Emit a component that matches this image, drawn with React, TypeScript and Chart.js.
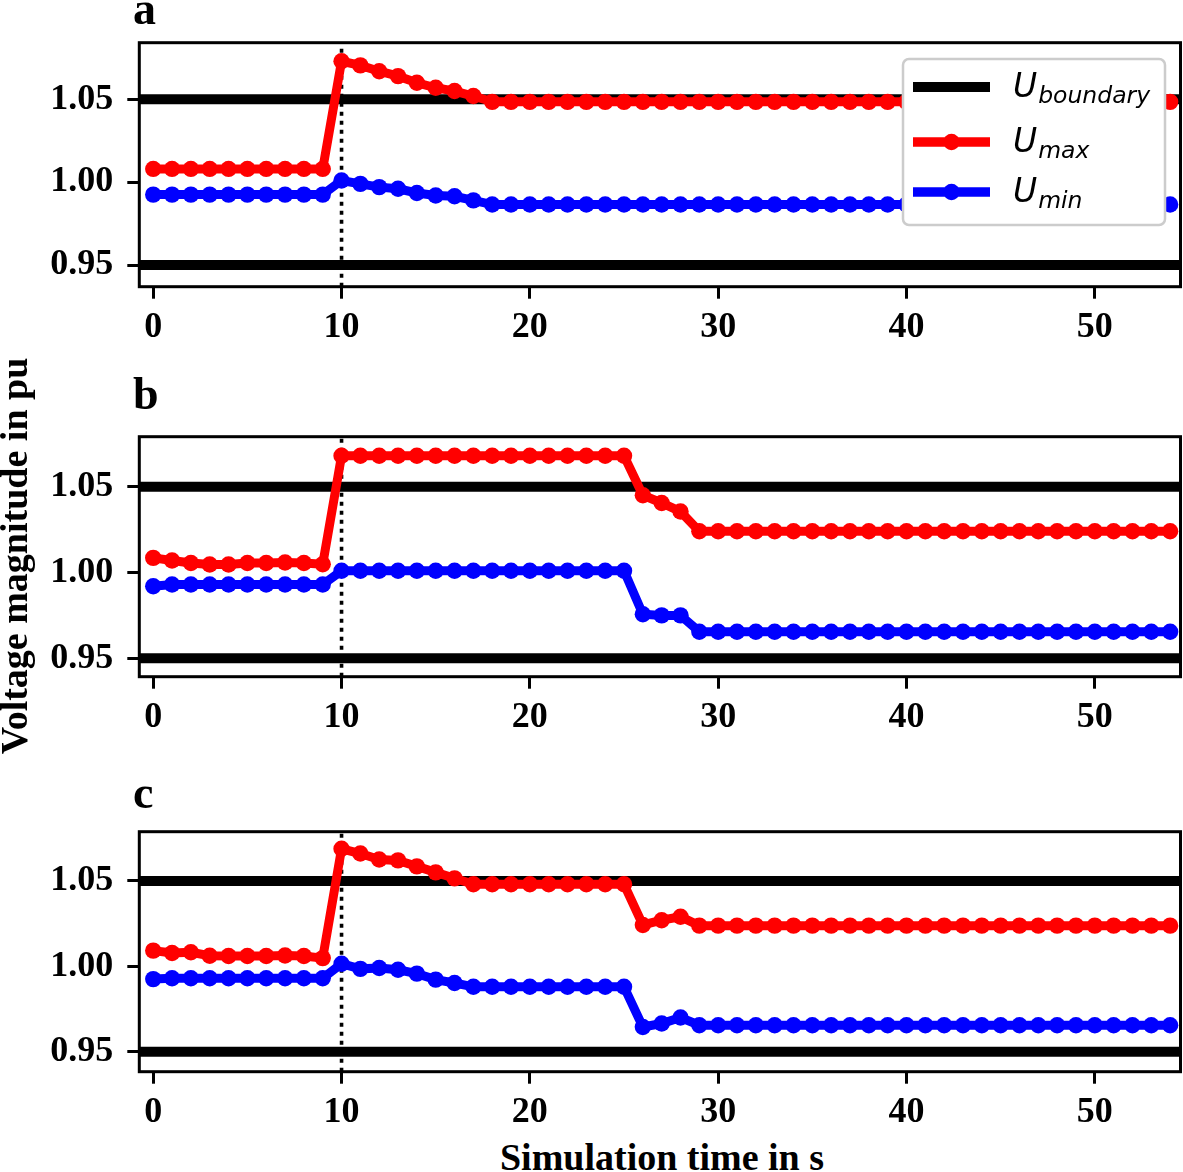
import React, { useEffect, useRef } from "react";
import { Chart, registerables } from "chart.js";

Chart.register(...registerables);

// ---------------- data ----------------
const TIME = [
  0, 1, 2, 3, 4, 5, 6, 7, 8, 9, 10, 11, 12, 13, 14, 15, 16, 17, 18, 19, 20, 21, 22, 23, 24, 25, 26, 27,
  28, 29, 30, 31, 32, 33, 34, 35, 36, 37, 38, 39, 40, 41, 42, 43, 44, 45, 46, 47, 48, 49, 50, 51, 52, 53, 54,
];

const A_UMAX = [
  1.008, 1.008, 1.008, 1.008, 1.008, 1.008, 1.008, 1.008, 1.008, 1.008,
  1.073, 1.0705, 1.067, 1.064, 1.06, 1.057, 1.055, 1.052,
  1.0485, 1.0485, 1.0485, 1.0485, 1.0485, 1.0485, 1.0485, 1.0485, 1.0485, 1.0485, 1.0485, 1.0485, 1.0485,
  1.0485, 1.0485, 1.0485, 1.0485, 1.0485, 1.0485, 1.0485, 1.0485, 1.0485, 1.0485, 1.0485, 1.0485, 1.0485,
  1.0485, 1.0485, 1.0485, 1.0485, 1.0485, 1.0485, 1.0485, 1.0485, 1.0485, 1.0485, 1.0485,
];
const A_UMIN = [
  0.9925, 0.9925, 0.9925, 0.9925, 0.9925, 0.9925, 0.9925, 0.9925, 0.9925, 0.9925,
  1.001, 0.999, 0.997, 0.996, 0.9935, 0.992, 0.9915, 0.989,
  0.9865, 0.9865, 0.9865, 0.9865, 0.9865, 0.9865, 0.9865, 0.9865, 0.9865, 0.9865, 0.9865, 0.9865, 0.9865,
  0.9865, 0.9865, 0.9865, 0.9865, 0.9865, 0.9865, 0.9865, 0.9865, 0.9865, 0.9865, 0.9865, 0.9865, 0.9865,
  0.9865, 0.9865, 0.9865, 0.9865, 0.9865, 0.9865, 0.9865, 0.9865, 0.9865, 0.9865, 0.9865,
];

const B_UMAX = [
  1.0085, 1.007, 1.0055, 1.0047, 1.0047, 1.0055, 1.0055, 1.0058, 1.0055, 1.0048,
  1.068, 1.068, 1.068, 1.068, 1.068, 1.068, 1.068, 1.068, 1.068, 1.068, 1.068, 1.068, 1.068, 1.068, 1.068, 1.068,
  1.045, 1.0405, 1.0355,
  1.024, 1.024, 1.024, 1.024, 1.024, 1.024, 1.024, 1.024, 1.024, 1.024, 1.024, 1.024, 1.024,
  1.024, 1.024, 1.024, 1.024, 1.024, 1.024, 1.024, 1.024, 1.024, 1.024, 1.024, 1.024, 1.024,
];
const B_UMIN = [
  0.992, 0.993, 0.993, 0.993, 0.993, 0.993, 0.993, 0.993, 0.993, 0.993,
  1.001, 1.001, 1.001, 1.001, 1.001, 1.001, 1.001, 1.001, 1.001, 1.001, 1.001, 1.001, 1.001, 1.001, 1.001, 1.001,
  0.9757, 0.975, 0.975,
  0.9655, 0.9655, 0.9655, 0.9655, 0.9655, 0.9655, 0.9655, 0.9655, 0.9655, 0.9655, 0.9655, 0.9655, 0.9655,
  0.9655, 0.9655, 0.9655, 0.9655, 0.9655, 0.9655, 0.9655, 0.9655, 0.9655, 0.9655, 0.9655, 0.9655, 0.9655,
];

const C_UMAX = [
  1.0092, 1.0078, 1.0082, 1.0062, 1.006, 1.006, 1.006, 1.0063, 1.006, 1.0048,
  1.0688, 1.066, 1.0625, 1.062, 1.0585, 1.055, 1.0515,
  1.048, 1.048, 1.048, 1.048, 1.048, 1.048, 1.048, 1.048, 1.048,
  1.0242, 1.027, 1.029,
  1.0238, 1.0238, 1.0238, 1.0238, 1.0238, 1.0238, 1.0238, 1.0238, 1.0238, 1.0238, 1.0238, 1.0238, 1.0238,
  1.0238, 1.0238, 1.0238, 1.0238, 1.0238, 1.0238, 1.0238, 1.0238, 1.0238, 1.0238, 1.0238, 1.0238, 1.0238,
];
const C_UMIN = [
  0.9925, 0.993, 0.993, 0.993, 0.993, 0.993, 0.993, 0.993, 0.993, 0.993,
  1.0015, 0.9985, 0.999, 0.998, 0.9957, 0.9922, 0.9902,
  0.988, 0.988, 0.988, 0.988, 0.988, 0.988, 0.988, 0.988, 0.988,
  0.9645, 0.9665, 0.97,
  0.9655, 0.9655, 0.9655, 0.9655, 0.9655, 0.9655, 0.9655, 0.9655, 0.9655, 0.9655, 0.9655, 0.9655, 0.9655,
  0.9655, 0.9655, 0.9655, 0.9655, 0.9655, 0.9655, 0.9655, 0.9655, 0.9655, 0.9655, 0.9655, 0.9655, 0.9655,
];

const BOUNDARIES = [0.95, 1.05];
const EVENT_TIME = 10;
const X_TICKS = [0, 10, 20, 30, 40, 50];
const Y_TICKS = [0.95, 1.0, 1.05];
const X_LIMITS = [-0.74, 54.55];
const A_Y_LIMITS = [0.9369, 1.0842];
const B_Y_LIMITS = [0.9393, 1.0791];
const C_Y_LIMITS = [0.9383, 1.0788];
const PANEL_LETTERS = ["a", "b", "c"];
const LEGEND_MAIN = ["U", "U", "U"];
const LEGEND_SUBS = ["boundary", "max", "min"];
const X_TITLE = "Simulation time in s";
const Y_TITLE = "Voltage magnitude in pu";

// ---------------- layout / styles ----------------
const FIG_W = 1183;
const FIG_H = 1172;
const CANVAS_H = 347;
const PAD_TOP = 42.7;
const PLOT_LEFT = 139.3;
const PLOT_RIGHT = 1180.5;
const TICK_FONT = { family: "'Liberation Serif', 'Times New Roman', serif", size: 36, weight: "bold" as const };
const RED = "#ff0000";
const BLUE = "#0000ff";
const DATA_LW = 9;
const MARKER_R = 8.2;
const BOUNDARY_LW = 10;

type PanelSpec = {
  letter: string;
  umax: number[];
  umin: number[];
  ylim: number[];
  canvasTop: number;
  plotH: number;
  letterTop: number;
  legend: boolean;
};

const PANELS: PanelSpec[] = [
  { letter: PANEL_LETTERS[0], umax: A_UMAX, umin: A_UMIN, ylim: A_Y_LIMITS, canvasTop: 0, plotH: 244, letterTop: -14.5, legend: true },
  { letter: PANEL_LETTERS[1], umax: B_UMAX, umin: B_UMIN, ylim: B_Y_LIMITS, canvasTop: 394, plotH: 240, letterTop: 370.8, legend: false },
  { letter: PANEL_LETTERS[2], umax: C_UMAX, umin: C_UMIN, ylim: C_Y_LIMITS, canvasTop: 789, plotH: 240, letterTop: 769.5, legend: false },
];

const framePlugin = {
  id: "frame",
  afterDraw(chart: any) {
    const { ctx, chartArea } = chart;
    ctx.save();
    ctx.strokeStyle = "#000";
    ctx.lineWidth = 3;
    ctx.strokeRect(chartArea.left, chartArea.top, chartArea.right - chartArea.left, chartArea.bottom - chartArea.top);
    ctx.restore();
  },
};

const legendPlugin = {
  id: "mathLegend",
  afterDraw(chart: any) {
    const { ctx, chartArea } = chart;
    const boxW = 262;
    const boxH = 166;
    const bx = chartArea.right - 15.5 - boxW;
    const by = chartArea.top + 16.3;
    ctx.save();
    ctx.beginPath();
    (ctx as any).roundRect(bx, by, boxW, boxH, 6);
    ctx.fillStyle = "#ffffff";
    ctx.fill();
    ctx.strokeStyle = "#cccccc";
    ctx.lineWidth = 2.5;
    ctx.stroke();
    const rowY = [by + 28, by + 83, by + 133];
    const colors = ["#000000", RED, BLUE];
    const markers = [false, true, true];
    for (let i = 0; i < 3; i++) {
      const y = rowY[i];
      const x1 = bx + 10;
      const x2 = bx + 87;
      ctx.beginPath();
      ctx.moveTo(x1, y);
      ctx.lineTo(x2, y);
      ctx.strokeStyle = colors[i];
      ctx.lineWidth = i === 0 ? BOUNDARY_LW : DATA_LW + 0.5;
      ctx.lineCap = "butt";
      ctx.stroke();
      if (markers[i]) {
        ctx.beginPath();
        ctx.arc((x1 + x2) / 2, y, MARKER_R, 0, Math.PI * 2);
        ctx.fillStyle = colors[i];
        ctx.fill();
      }
      const tx = bx + 110;
      const base = y + 10;
      ctx.fillStyle = "#000";
      ctx.textBaseline = "alphabetic";
      ctx.textAlign = "left";
      ctx.font = "italic 33px 'DejaVu Sans'";
      ctx.fillText(LEGEND_MAIN[i], tx, base);
      const w = ctx.measureText(LEGEND_MAIN[i]).width;
      ctx.font = "italic 23.5px 'DejaVu Sans'";
      ctx.fillText(LEGEND_SUBS[i], tx + w + 1, base + 6);
    }
    ctx.restore();
  },
};

function Panel({ spec }: { spec: PanelSpec }) {
  const ref = useRef<HTMLCanvasElement | null>(null);
  useEffect(() => {
    if (!ref.current) return;
    const [ymin, ymax] = spec.ylim;
    const axisH = CANVAS_H - PAD_TOP - spec.plotH;
    const toPts = (arr: number[]) => TIME.map((t, i) => ({ x: t, y: arr[i] }));
    const datasets: any[] = [
      {
        label: "Umax",
        data: toPts(spec.umax),
        borderColor: RED,
        backgroundColor: RED,
        borderWidth: DATA_LW,
        pointRadius: MARKER_R,
        pointHoverRadius: MARKER_R,
        pointBorderWidth: 0,
        pointBackgroundColor: RED,
        tension: 0,
        order: 1,
        clip: 0,
      },
      {
        label: "Umin",
        data: toPts(spec.umin),
        borderColor: BLUE,
        backgroundColor: BLUE,
        borderWidth: DATA_LW,
        pointRadius: MARKER_R,
        pointHoverRadius: MARKER_R,
        pointBorderWidth: 0,
        pointBackgroundColor: BLUE,
        tension: 0,
        order: 2,
        clip: 0,
      },
      {
        label: "event",
        data: [
          { x: EVENT_TIME, y: ymin },
          { x: EVENT_TIME, y: ymax },
        ],
        borderColor: "#000",
        borderWidth: 3.6,
        borderDash: [4, 5],
        borderCapStyle: "butt",
        pointRadius: 0,
        order: 3,
        clip: 0,
      },
      ...BOUNDARIES.map((b) => ({
        label: "Uboundary",
        data: [
          { x: X_LIMITS[0], y: b },
          { x: X_LIMITS[1], y: b },
        ],
        borderColor: "#000",
        borderWidth: BOUNDARY_LW,
        pointRadius: 0,
        order: 4,
        clip: 0,
      })),
    ];
    const chart = new Chart(ref.current, {
      type: "line",
      data: { datasets },
      options: {
        animation: false,
        responsive: false,
        devicePixelRatio: 1,
        events: [],
        layout: {
          autoPadding: false,
          padding: { top: PAD_TOP, right: FIG_W - PLOT_RIGHT, left: 0, bottom: 0 },
        },
        plugins: {
          legend: { display: false },
          tooltip: { enabled: false },
          title: { display: false },
        },
        scales: {
          x: {
            type: "linear",
            min: X_LIMITS[0],
            max: X_LIMITS[1],
            afterBuildTicks: (s: any) => {
              s.ticks = X_TICKS.map((v) => ({ value: v }));
            },
            afterFit: (s: any) => {
              s.height = axisH;
            },
            grid: {
              drawOnChartArea: false,
              drawTicks: true,
              tickLength: 12,
              tickWidth: 3,
              tickColor: "#000",
              color: "#000",
              lineWidth: 3,
            },
            border: { display: false },
            ticks: {
              color: "#000",
              font: TICK_FONT,
              padding: 7,
              maxRotation: 0,
              autoSkip: false,
              callback: (v: any) => String(v),
            },
          },
          y: {
            type: "linear",
            min: ymin,
            max: ymax,
            afterBuildTicks: (s: any) => {
              s.ticks = Y_TICKS.map((v) => ({ value: v }));
            },
            afterFit: (s: any) => {
              s.width = PLOT_LEFT;
            },
            grid: {
              drawOnChartArea: false,
              drawTicks: true,
              tickLength: 12,
              tickWidth: 3,
              tickColor: "#000",
              color: "#000",
              lineWidth: 3,
            },
            border: { display: false },
            ticks: {
              color: "#000",
              font: TICK_FONT,
              padding: 14,
              autoSkip: false,
              callback: (v: any) => Number(v).toFixed(2),
            },
          },
        },
      } as any,
      plugins: spec.legend ? [framePlugin, legendPlugin] : [framePlugin],
    });
    return () => chart.destroy();
  }, [spec]);
  return (
    <canvas
      ref={ref}
      width={FIG_W}
      height={CANVAS_H}
      style={{ position: "absolute", left: 0, top: spec.canvasTop, width: FIG_W, height: CANVAS_H }}
    />
  );
}

const serifBold: React.CSSProperties = {
  fontFamily: "'Liberation Serif', 'Times New Roman', serif",
  fontWeight: "bold",
  color: "#000",
  position: "absolute",
  whiteSpace: "nowrap",
};

export default function App() {
  return (
    <div
      style={{
        position: "absolute",
        left: 0,
        top: 0,
        width: FIG_W,
        height: FIG_H,
        background: "#fff",
        overflow: "hidden",
      }}
    >
      {PANELS.map((p) => (
        <Panel key={p.letter} spec={p} />
      ))}
      {PANELS.map((p) => (
        <div
          key={"l" + p.letter}
          style={{ ...serifBold, left: 133, top: p.letterTop, fontSize: 46, lineHeight: "46px" }}
        >
          {p.letter}
        </div>
      ))}
      <div
        style={{
          ...serifBold,
          left: 14 - 250,
          top: 556 - 19,
          width: 500,
          height: 38,
          fontSize: 38,
          lineHeight: "38px",
          textAlign: "center",
          transform: "rotate(-90deg)",
          transformOrigin: "50% 50%",
        }}
      >
        {Y_TITLE}
      </div>
      <div
        style={{
          ...serifBold,
          left: 662 - 250,
          top: 1138,
          width: 500,
          height: 38,
          fontSize: 38,
          lineHeight: "38px",
          textAlign: "center",
        }}
      >
        {X_TITLE}
      </div>
    </div>
  );
}
